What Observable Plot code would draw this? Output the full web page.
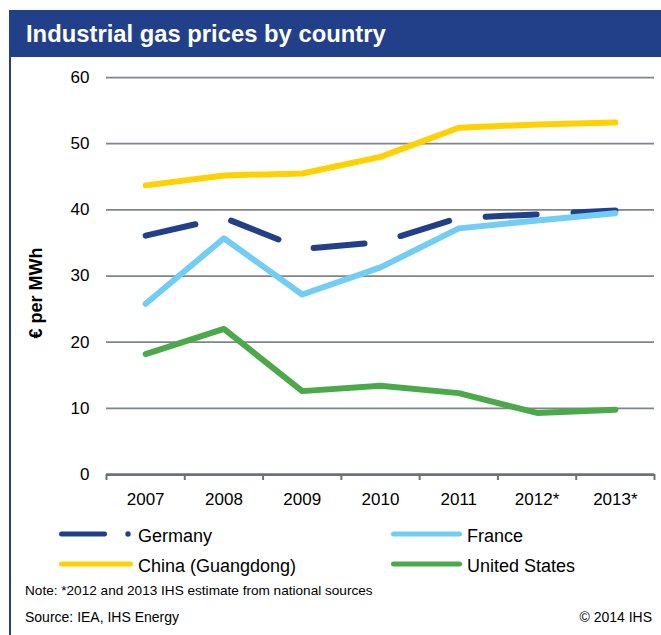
<!DOCTYPE html>
<html><head><meta charset="utf-8">
<script src="https://cdn.jsdelivr.net/npm/d3@7"></script>
<script src="https://cdn.jsdelivr.net/npm/@observablehq/plot@0.6"></script>
<style>
body{margin:0;width:661px;height:635px;position:relative;background:#fff;font-family:"Liberation Sans",Arial,sans-serif;overflow:hidden}
#border{position:absolute;left:9px;top:10px;width:2px;height:625px;background:#22408a}
#title{position:absolute;left:9px;top:10px;width:652px;height:47px;background:#22408a;color:#fff;font-weight:bold;font-size:23.8px;line-height:47px;padding-left:17px;box-sizing:border-box;white-space:nowrap}
#chart{position:absolute;left:0;top:60px}
#foot{position:absolute;left:0;top:500px}
</style></head>
<body>
<div id="border"></div>
<div id="title">Industrial gas prices by country</div>
<div id="chart"></div>
<svg id="foot" width="661" height="135"></svg>
<script>
const categories = ["2007","2008","2009","2010","2011","2012*","2013*"];
const germany = [36.1, 38.8, 34.1, 35.1, 38.8, 39.3, 39.9];
const france  = [25.8, 35.7, 27.2, 31.3, 37.2, 38.4, 39.5];
const china   = [43.7, 45.2, 45.5, 48.0, 52.4, 52.9, 53.2];
const us      = [18.2, 22.0, 12.6, 13.4, 12.3, 9.3, 9.8];
const yTicks = [0, 10, 20, 30, 40, 50, 60];
const seriesNames = ["Germany", "France", "China (Guangdong)", "United States"];
const seriesColors = ["#22408a", "#72cdf4", "#ffd100", "#4aaa4a"];
const yLabel = "€ per MWh";
const note = "Note: *2012 and 2013 IHS estimate from national sources";
const source = "Source: IEA, IHS Energy";
const copyright = "© 2014 IHS";

const idx = d3.range(categories.length);
const bounds = d3.range(categories.length + 1).map(i => i - 0.5);
const lineOpts = (c) => ({stroke: c, strokeWidth: 6, strokeLinecap: "round", strokeLinejoin: "round"});

const chart = Plot.plot({
  width: 661, height: 460,
  marginLeft: 106, marginRight: 7, marginTop: 17, marginBottom: 46,
  style: {fontFamily: '"Liberation Sans", Arial, sans-serif', fontSize: "17px", color: "#000", background: "transparent"},
  x: {type: "linear", domain: [-0.5, categories.length - 0.5]},
  y: {domain: [0, 60]},
  marks: [
    Plot.ruleY(yTicks.filter(d => d > 0), {stroke: "#7f858b", strokeWidth: 1.75}),
    Plot.ruleY([0], {stroke: "#6b7178", strokeWidth: 2.75}),
    Plot.axisX(bounds, {tickSize: 6, tickFormat: () => "", stroke: "#6b7178", strokeWidth: 2}),
    Plot.axisX(idx, {tickSize: 0, tickPadding: 18, tickFormat: i => categories[i], fontSize: 17, label: null}),
    Plot.axisY(yTicks, {tickSize: 0, tickPadding: 17, fontSize: 17, label: null}),
    Plot.text([yLabel], {frameAnchor: "left", textAnchor: "middle", lineAnchor: "middle", rotate: -90, dx: -70, dy: 17, fontWeight: "bold", fontSize: 18, text: d => d}),
    Plot.lineY(germany, {...lineOpts(seriesColors[0]), strokeDasharray: "51,37"}),
    Plot.lineY(france, lineOpts(seriesColors[1])),
    Plot.lineY(china, lineOpts(seriesColors[2])),
    Plot.lineY(us, lineOpts(seriesColors[3]))
  ]
});
document.getElementById("chart").appendChild(chart);

// legend + footer
const foot = d3.select("#foot");
const legendPos = [
  {x1: 59, x2: 107, tx: 138, y: 34, dot: 128},
  {x1: 391, x2: 462, tx: 467, y: 34},
  {x1: 59, x2: 133, tx: 138, y: 64},
  {x1: 391, x2: 462, tx: 467, y: 64}
];
seriesNames.forEach((name, i) => {
  const p = legendPos[i];
  foot.append("line").attr("x1", p.x1 + 2.5).attr("x2", p.x2 - 2.5).attr("y1", p.y).attr("y2", p.y)
    .attr("stroke", seriesColors[i]).attr("stroke-width", 5).attr("stroke-linecap", "round");
  if (p.dot) foot.append("circle").attr("cx", p.dot).attr("cy", p.y).attr("r", 2.7).attr("fill", seriesColors[i]);
  foot.append("text").attr("x", p.tx).attr("y", p.y + 8).attr("font-size", 18).text(name);
});
foot.append("text").attr("x", 25).attr("y", 95).attr("font-size", 13.6).text(note);
foot.append("text").attr("x", 25).attr("y", 122).attr("font-size", 14).text(source);
foot.append("text").attr("x", 652).attr("y", 122).attr("font-size", 14).attr("text-anchor", "end").text(copyright);
</script>
</body></html>
